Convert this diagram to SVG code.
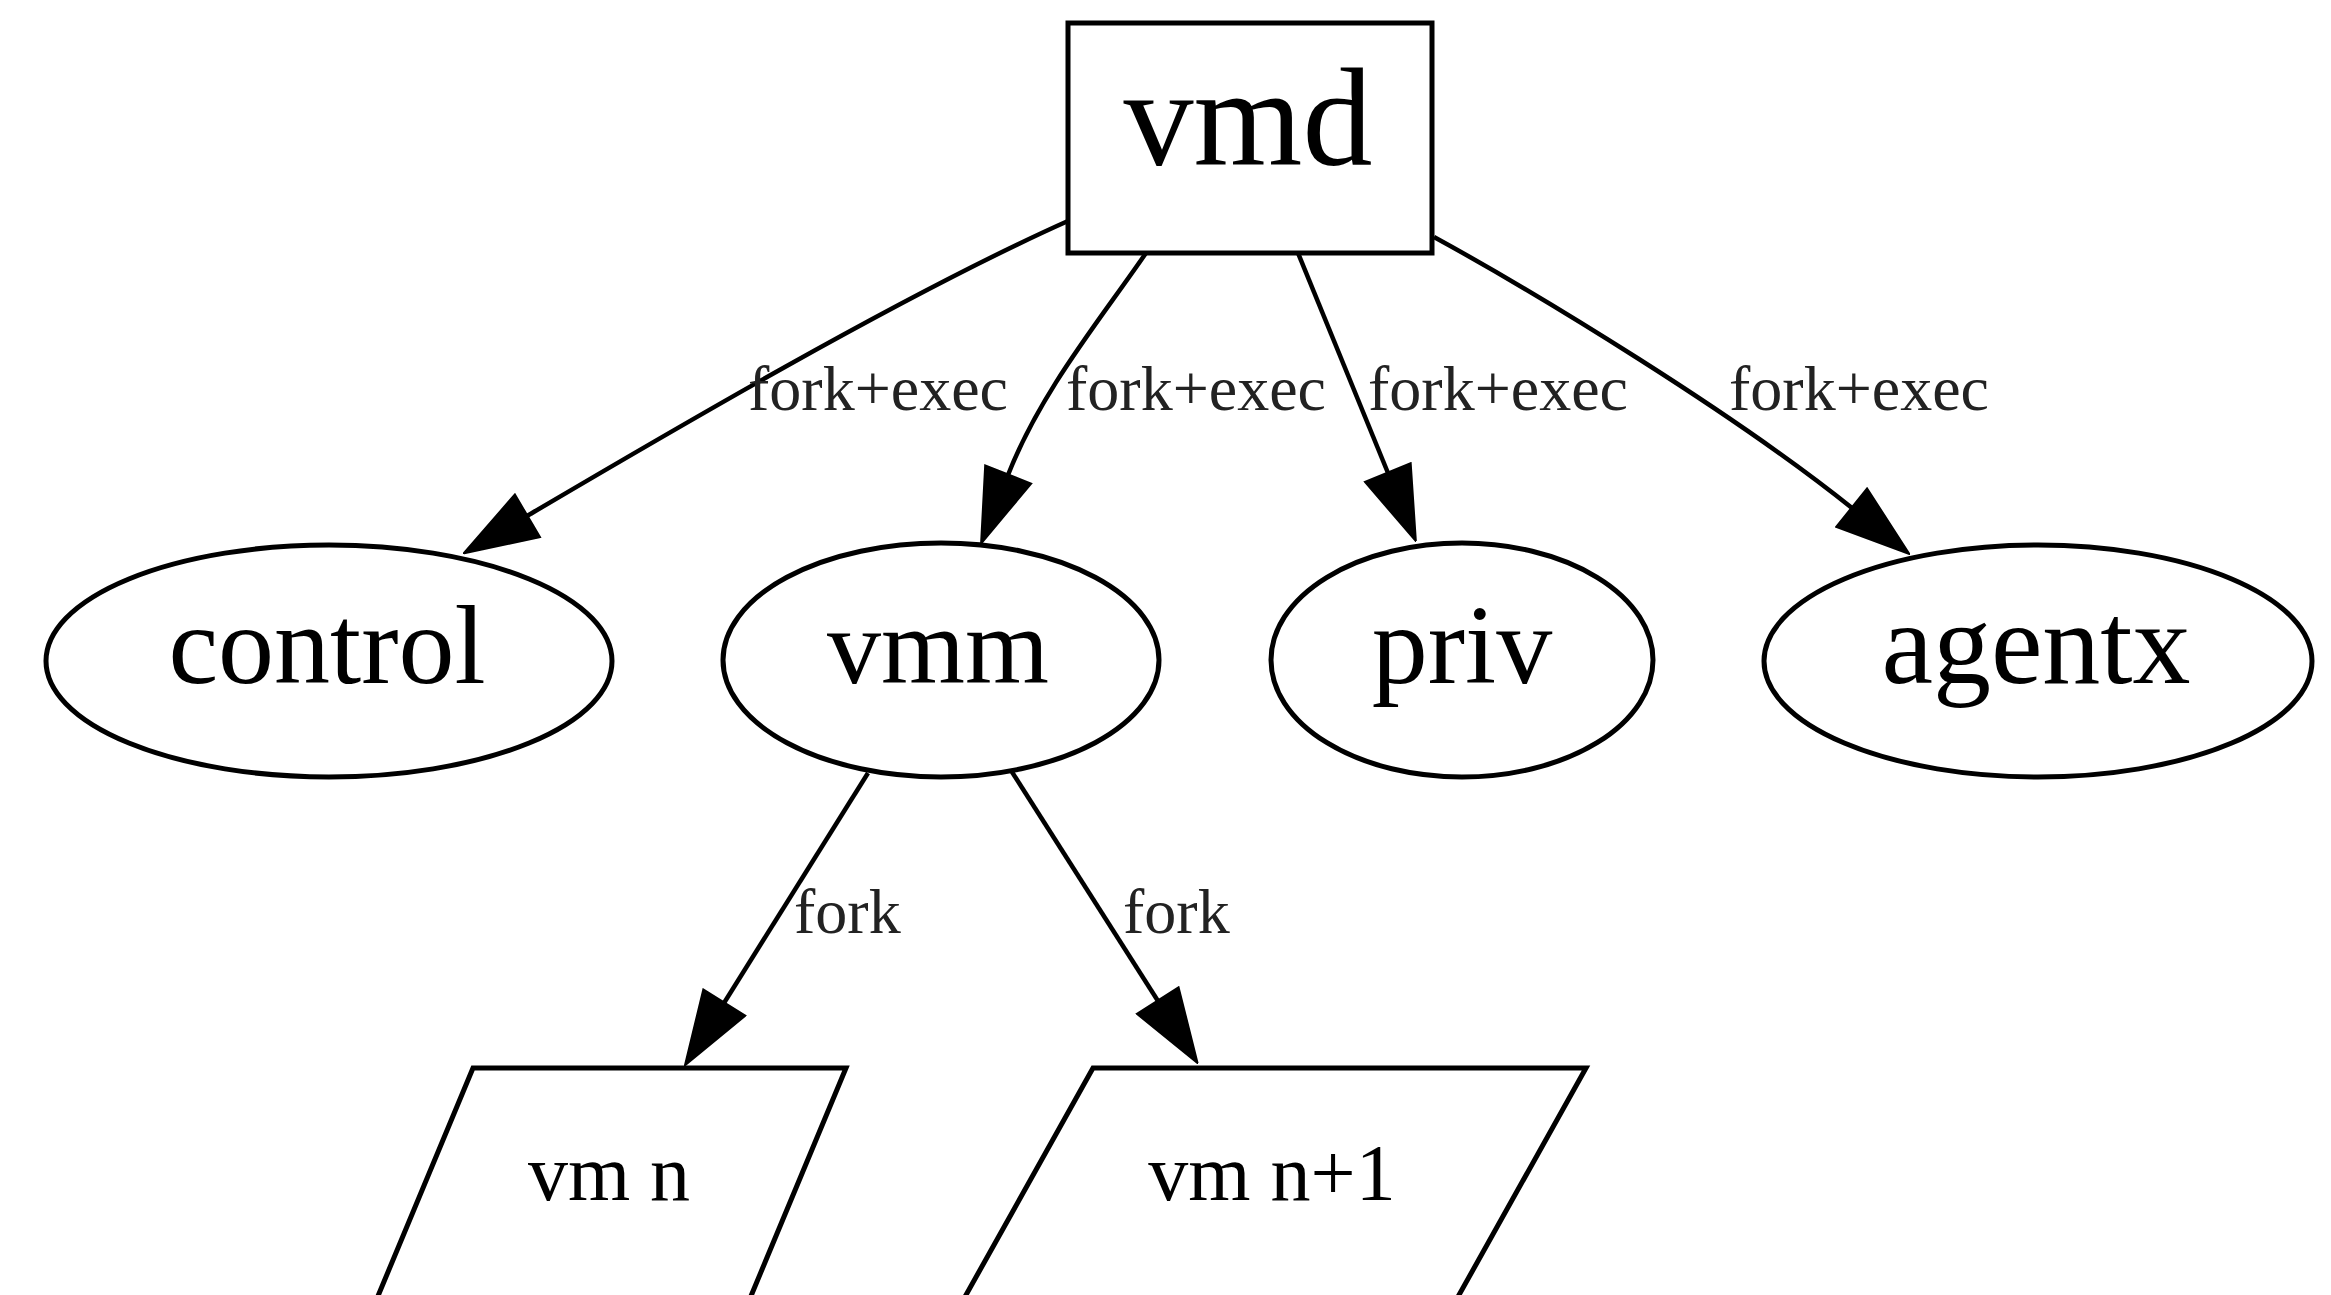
<svg xmlns="http://www.w3.org/2000/svg" width="2331" height="1295" viewBox="0 0 2331 1295">
<style>
.shape{fill:#fff;stroke:#000;stroke-width:5}
.edge{fill:none;stroke:#000;stroke-width:4.5}
.nl{font-family:"Liberation Serif","Times New Roman",serif;fill:#000;text-anchor:middle}
.el{font-family:"Liberation Serif","Times New Roman",serif;fill:#222;font-size:64px}
</style>
<defs>
<marker id="arr" markerUnits="userSpaceOnUse" markerWidth="76" markerHeight="52" refX="2" refY="26" orient="auto" viewBox="0 0 76 52">
<path d="M2,2 L74,26 L2,50 z" fill="#000" stroke="#000" stroke-width="3"/>
</marker>
</defs>
<rect width="2331" height="1295" fill="#fff"/>
<g id="connectors">
<path class="edge" d="M1068,221 C900,296 656,440 527,516" marker-end="url(#arr)"/>
<path class="edge" d="M1146,253 C1100,320 1041,391 1008,475" marker-end="url(#arr)"/>
<path class="edge" d="M1298,253 L1388,473" marker-end="url(#arr)"/>
<path class="edge" d="M1434,237 C1540,295 1735,414 1852,508" marker-end="url(#arr)"/>
<path class="edge" d="M868,773 L724,1003" marker-end="url(#arr)"/>
<path class="edge" d="M1012,772 L1158,1001" marker-end="url(#arr)"/>
<text class="el" x="748" y="410">fork+exec</text>
<text class="el" x="1066" y="410">fork+exec</text>
<text class="el" x="1368" y="410">fork+exec</text>
<text class="el" x="1729" y="410">fork+exec</text>
<text class="el" x="794" y="933">fork</text>
<text class="el" x="1123" y="933">fork</text>
</g>
<g id="vmd">
<rect class="shape" x="1068" y="23" width="364" height="230"/>
<text class="nl" x="1248" y="165" font-size="140">vmd</text>
</g>
<g id="control">
<ellipse class="shape" cx="329" cy="661" rx="283" ry="116"/>
<text class="nl" x="327" y="683" font-size="112">control</text>
</g>
<g id="vmm">
<ellipse class="shape" cx="941" cy="660" rx="218" ry="117"/>
<text class="nl" x="938" y="683" font-size="108">vmm</text>
</g>
<g id="priv">
<ellipse class="shape" cx="1462" cy="660" rx="191" ry="117"/>
<text class="nl" x="1462" y="683" font-size="112">priv</text>
</g>
<g id="agentx">
<ellipse class="shape" cx="2038" cy="661" rx="274" ry="116"/>
<text class="nl" x="2036" y="683" font-size="116">agentx</text>
</g>
<g id="vm_n">
<polygon class="shape" points="473,1068 846,1068 741,1320 368,1320"/>
<text class="nl" x="609" y="1200" font-size="80">vm n</text>
</g>
<g id="vm_n1">
<polygon class="shape" points="1093,1068 1586,1068 1445,1320 952,1320"/>
<text class="nl" x="1272" y="1200" font-size="80">vm n+1</text>
</g>
</svg>
